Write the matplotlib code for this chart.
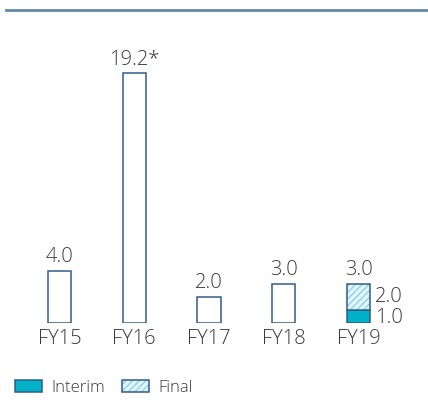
import matplotlib
matplotlib.use('Agg')
import matplotlib.pyplot as plt
from matplotlib.patches import Patch
from matplotlib.lines import Line2D

years = ['FY15', 'FY16', 'FY17', 'FY18', 'FY19']
totals = [4.0, 19.2, 2.0, 3.0, 3.0]
total_labels = ['4.0', '19.2*', '2.0', '3.0', '3.0']
interim = [0, 0, 0, 0, 1.0]
final = [0, 0, 0, 0, 2.0]

edge = '#2f5c8a'
cyan = '#00b2c9'
hatch_col = '#8fd3e3'
txt = '#3a3a3a'

plt.rcParams['font.family'] = ['Open Sans', 'DejaVu Sans']
plt.rcParams['font.weight'] = 'light'
plt.rcParams['hatch.linewidth'] = 1.0

fig = plt.figure(figsize=(4.28, 4.07), dpi=100)
ax = fig.add_axes([0, 84 / 407, 1, 313 / 407])
x = list(range(len(years)))
w = 0.31
fs = 14.5

# plain outlined bars for the years without a split
for i in range(4):
    ax.bar(x[i], totals[i], width=w, facecolor='white', edgecolor=edge, linewidth=1.1)

# FY19: interim + final
ax.bar(x[4], interim[4], width=w, color=cyan, edgecolor=edge, linewidth=1.1)
ax.bar(x[4], final[4], bottom=interim[4], width=w, facecolor='#e4f5f9',
       edgecolor=hatch_col, hatch='/////', linewidth=0)
ax.bar(x[4], final[4], bottom=interim[4], width=w, facecolor='none',
       edgecolor=edge, linewidth=1.1)

for i in x:
    ax.text(x[i], totals[i] + 0.3, total_labels[i], ha='center', va='bottom',
            fontsize=fs, color=txt)
    ax.text(x[i], -0.5, years[i], ha='center', va='top', fontsize=fs, color=txt)

ax.text(x[4] + w / 2 + 0.06, interim[4] + final[4] / 2, '%.1f' % final[4],
        ha='left', va='center', fontsize=fs, color=txt)
ax.text(x[4] + w / 2 + 0.06, interim[4] / 2 - 0.1, '%.1f' % interim[4],
        ha='left', va='center', fontsize=fs, color=txt)

ax.set_xlim(-59.5 / 74.75, (428 - 59.5) / 74.75)
ax.set_ylim(0, 313 / 13)
ax.axis('off')

fig.add_artist(Line2D([6 / 428, 1], [1 - 9.5 / 407, 1 - 9.5 / 407],
                      color='#6488a8', linewidth=2))

h1 = Patch(facecolor=cyan, edgecolor=edge, linewidth=1.1)
h2a = Patch(facecolor='#e4f5f9', edgecolor=hatch_col, hatch='/////', linewidth=0)
h2b = Patch(facecolor='none', edgecolor=edge, linewidth=1.1)
fig.legend([h1, (h2a, h2b)], ['Interim', 'Final'], loc='lower left',
           bbox_to_anchor=(0.0, -0.01), ncol=2, frameon=False, fontsize=12,
           handlelength=1.6, handleheight=0.7, columnspacing=1.0, handletextpad=0.6,
           labelcolor=txt)

fig.savefig('out.png', dpi=100)
